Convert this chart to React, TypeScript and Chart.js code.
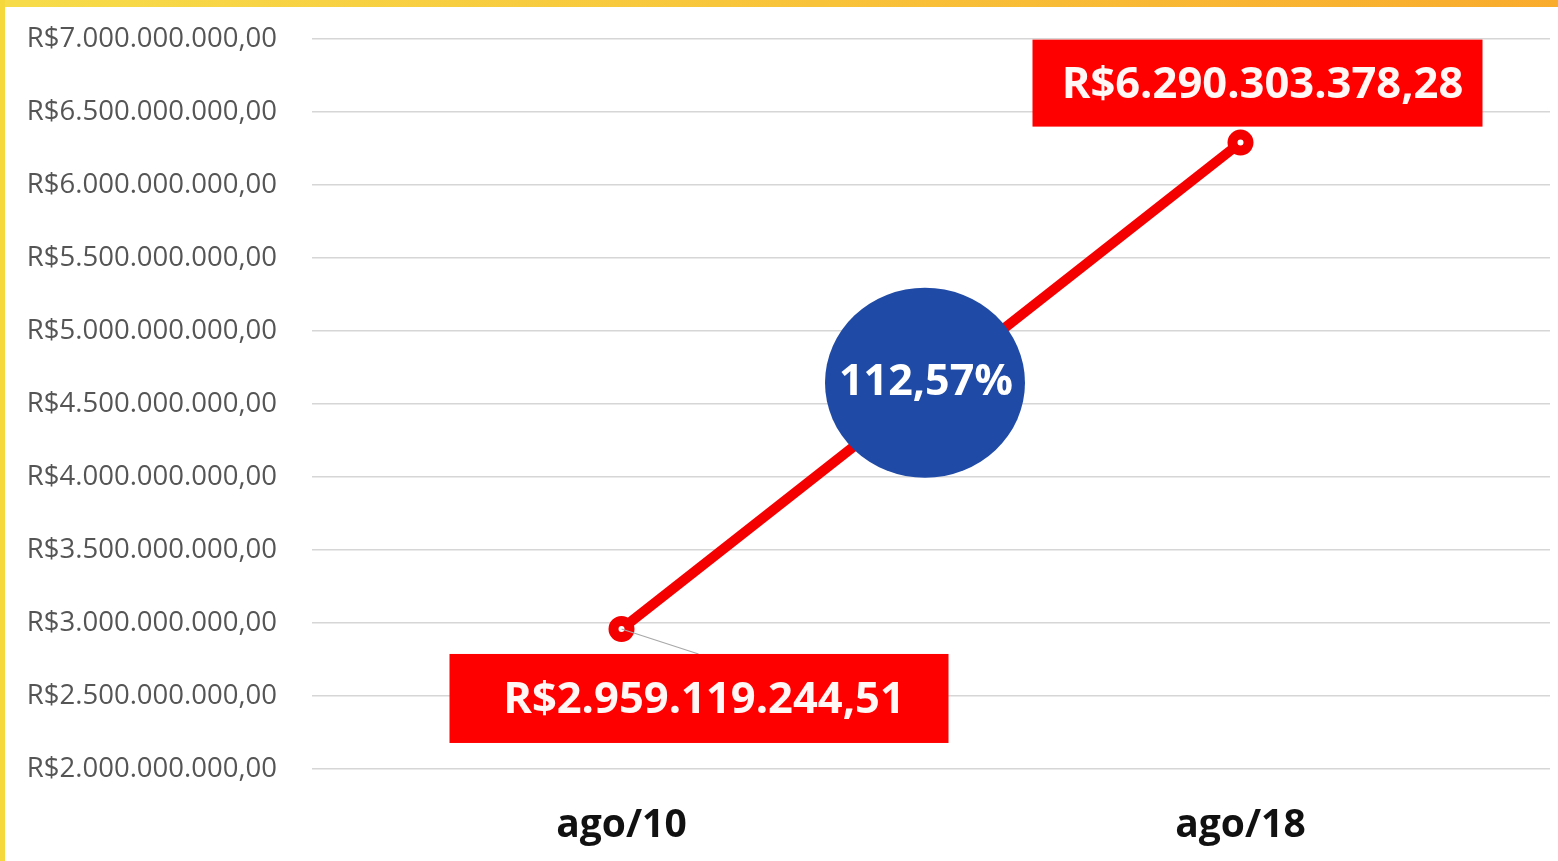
import React, { useEffect, useRef } from "react";
import { Chart, registerables } from "chart.js";

Chart.register(...registerables);

// ---- data ----
const categories = ["ago/10", "ago/18"];
const values = [2959119244.51, 6290303378.28];
const yMin = 2000000000;
const yMax = 7000000000;
const yStep = 500000000;

const FONT = "'Open Sans', 'Noto Sans', sans-serif";

function formatBRL(v: number, decimals = 2): string {
  const fixed = Math.abs(v).toFixed(decimals);
  const [intPart, dec] = fixed.split(".");
  const withDots = intPart.replace(/\B(?=(\d{3})+(?!\d))/g, ".");
  return "R$" + withDots + (dec ? "," + dec : "");
}

function formatPct(v: number): string {
  return v.toFixed(2).replace(".", ",") + "%";
}

function drawBox(ctx: CanvasRenderingContext2D, x: number, y: number, w: number, h: number, text: string) {
  ctx.fillStyle = "#ff0000";
  ctx.fillRect(x, y, w, h);
  ctx.fillStyle = "#fff6f6";
  ctx.font = `bold 43.5px ${FONT}`;
  ctx.textAlign = "center";
  ctx.textBaseline = "middle";
  ctx.fillText(text, x + w / 2 + 5, y + h / 2 + 2);
}

const annotPlugin = {
  id: "annot",
  afterDatasetsDraw(chart: any) {
    const ctx: CanvasRenderingContext2D = chart.ctx;
    const meta = chart.getDatasetMeta(0);
    const p0 = meta.data[0];
    const p1 = meta.data[1];
    ctx.save();
    // leader line
    ctx.strokeStyle = "#a8a8a8";
    ctx.lineWidth = 1.2;
    ctx.beginPath();
    ctx.moveTo(p0.x, p0.y);
    ctx.lineTo(p0.x + 77, p0.y + 25);
    ctx.stroke();

    // blue ellipse with growth percentage
    const cx = (p0.x + p1.x) / 2 - 6;
    const cy = (p0.y + p1.y) / 2 - 3;
    ctx.fillStyle = "#1f4aa6";
    ctx.beginPath();
    ctx.ellipse(cx, cy, 100, 95, 0, 0, Math.PI * 2);
    ctx.fill();
    const pct = (values[1] / values[0] - 1) * 100;
    ctx.fillStyle = "#ffffff";
    ctx.font = `bold 43px ${FONT}`;
    ctx.textAlign = "center";
    ctx.textBaseline = "middle";
    ctx.fillText(formatPct(pct), cx + 1, cy);

    // value labels
    drawBox(ctx, p1.x - 208, p1.y - 103, 450, 87, formatBRL(values[1]));
    drawBox(ctx, p0.x - 172, p0.y + 25, 499, 89, formatBRL(values[0]));
    ctx.restore();
  },
};

export default function App() {
  const canvasRef = useRef<HTMLCanvasElement | null>(null);

  useEffect(() => {
    const canvas = canvasRef.current;
    if (!canvas) return;
    const chart = new Chart(canvas, {
      type: "line",
      data: {
        labels: categories,
        datasets: [
          {
            data: values,
            borderColor: "#f40000",
            borderWidth: 10,
            pointRadius: 8,
            pointBorderWidth: 10,
            pointBackgroundColor: "#ffffff",
            pointBorderColor: "#f40000",
            tension: 0,
          },
        ],
      },
      options: {
        responsive: false,
        animation: false,
        layout: { autoPadding: false, padding: { left: 0, right: 8, top: 39, bottom: 0 } },
        plugins: {
          legend: { display: false },
          tooltip: { enabled: false },
        },
        scales: {
          x: {
            offset: true,
            grid: { display: false, drawTicks: false },
            border: { display: false },
            ticks: {
              color: "#111111",
              padding: 33,
              font: { family: FONT, size: 39, weight: "bold" },
            },
            afterFit: (scale: any) => {
              scale.height = 92;
              scale.paddingLeft = 0;
              scale.paddingRight = 0;
            },
          },
          y: {
            min: yMin,
            max: yMax,
            grid: { color: "#d6d6d6", lineWidth: 1.5, drawTicks: false },
            border: { display: false },
            ticks: {
              stepSize: yStep,
              autoSkip: false,
              color: "#555555",
              padding: 35,
              font: { family: FONT, size: 27.5 },
              callback: (v: any) => formatBRL(Number(v)),
            },
            afterFit: (scale: any) => {
              scale.width = 312;
              scale.paddingTop = 0;
              scale.paddingBottom = 0;
            },
          },
        },
      },
      plugins: [annotPlugin],
    } as any);
    return () => chart.destroy();
  }, []);

  return (
    <div
      style={{
        position: "fixed",
        left: 0,
        top: 0,
        width: 1558,
        height: 861,
        background: "#ffffff",
        overflow: "hidden",
      }}
    >
      <canvas ref={canvasRef} width={1558} height={861} style={{ display: "block" }} />
      <div
        style={{
          position: "absolute",
          left: 0,
          top: 0,
          width: 1558,
          height: 7,
          background: "linear-gradient(to right, #f7dc4a, #f8c43a 50%, #f9ab2c)",
        }}
      />
      <div
        style={{
          position: "absolute",
          left: 0,
          top: 0,
          width: 5,
          height: 861,
          background: "#f5d83c",
        }}
      />
    </div>
  );
}
